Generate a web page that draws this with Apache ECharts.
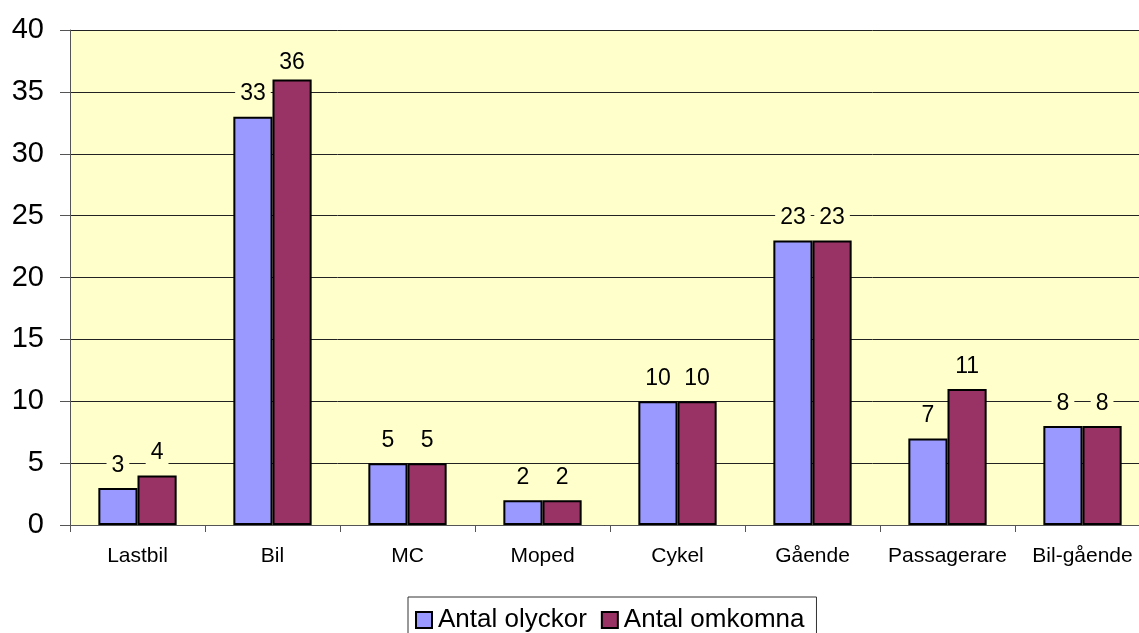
<!DOCTYPE html>
<html>
<head>
<meta charset="utf-8">
<script src="https://cdn.jsdelivr.net/npm/echarts@6/dist/echarts.min.js"></script>
<style>
  html, body { margin: 0; padding: 0; background: #fff; overflow: hidden; }
  #chart { width: 1139px; height: 633px; }
</style>
</head>
<body>
<div id="chart"></div>
<script>
// data
const categories = ['Lastbil', 'Bil', 'MC', 'Moped', 'Cykel', 'Gående', 'Passagerare', 'Bil-gående'];
const olyckor = [3, 33, 5, 2, 10, 23, 7, 8];
const omkomna = [4, 36, 5, 2, 10, 23, 11, 8];

const chart = echarts.init(document.getElementById('chart'));

const labelStyle = {
  show: true,
  position: 'top',
  distance: 11,
  fontFamily: 'Liberation Sans, Arial, sans-serif',
  fontSize: 23,
  color: '#000',
  backgroundColor: '#FFFFCC',
  padding: [0, 5]
};

// the tallest label sits lower, like in the original
function withLabels (values) {
  return values.map(function (v) {
    return v >= 36 ? { value: v, label: { distance: 5 } } : v
  })
}

const option = {
  animation: false,
  textStyle: { fontFamily: 'Liberation Sans, Arial, sans-serif' },
  grid: {
    left: 70,
    width: 1080,
    top: 30,
    bottom: 108,
    outerBoundsMode: 'none',
    containLabel: false,
    show: true,
    backgroundColor: '#FFFFCC',
    borderWidth: 0
  },
  legend: {
    left: 408,
    top: 597,
    padding: [10, 12, 10, 7],
    itemGap: 14,
    itemWidth: 16,
    itemHeight: 16,
    icon: 'rect',
    borderColor: '#333',
    borderWidth: 1,
    backgroundColor: '#fff',
    textStyle: { fontSize: 26, color: '#000', padding: [0, 0, 0, 1] },
    data: ['Antal olyckor', 'Antal omkomna']
  },
  xAxis: {
    type: 'category',
    data: categories,
    axisLine: { lineStyle: { color: '#555', width: 1 } },
    axisTick: { show: true, alignWithLabel: false, length: 7, lineStyle: { color: '#555' } },
    axisLabel: { interval: 0, fontSize: 21, color: '#000', margin: 21 }
  },
  yAxis: {
    type: 'value',
    min: 0,
    max: 40,
    interval: 5,
    axisLine: { show: true, lineStyle: { color: '#555', width: 1 } },
    axisTick: { show: true, length: 10, lineStyle: { color: '#555' } },
    axisLabel: { fontSize: 29, color: '#000', margin: 26 },
    splitLine: { show: true, lineStyle: { color: '#222', width: 1 } }
  },
  series: [
    {
      name: 'Antal olyckor',
      type: 'bar',
      data: withLabels(olyckor),
      barGap: '0%',
      barCategoryGap: '42%',
      itemStyle: { color: '#9999FF', borderColor: '#000', borderWidth: 2 },
      label: labelStyle
    },
    {
      name: 'Antal omkomna',
      type: 'bar',
      data: withLabels(omkomna),
      itemStyle: { color: '#993366', borderColor: '#000', borderWidth: 2 },
      label: labelStyle
    }
  ]
};

chart.setOption(option);
</script>
</body>
</html>
